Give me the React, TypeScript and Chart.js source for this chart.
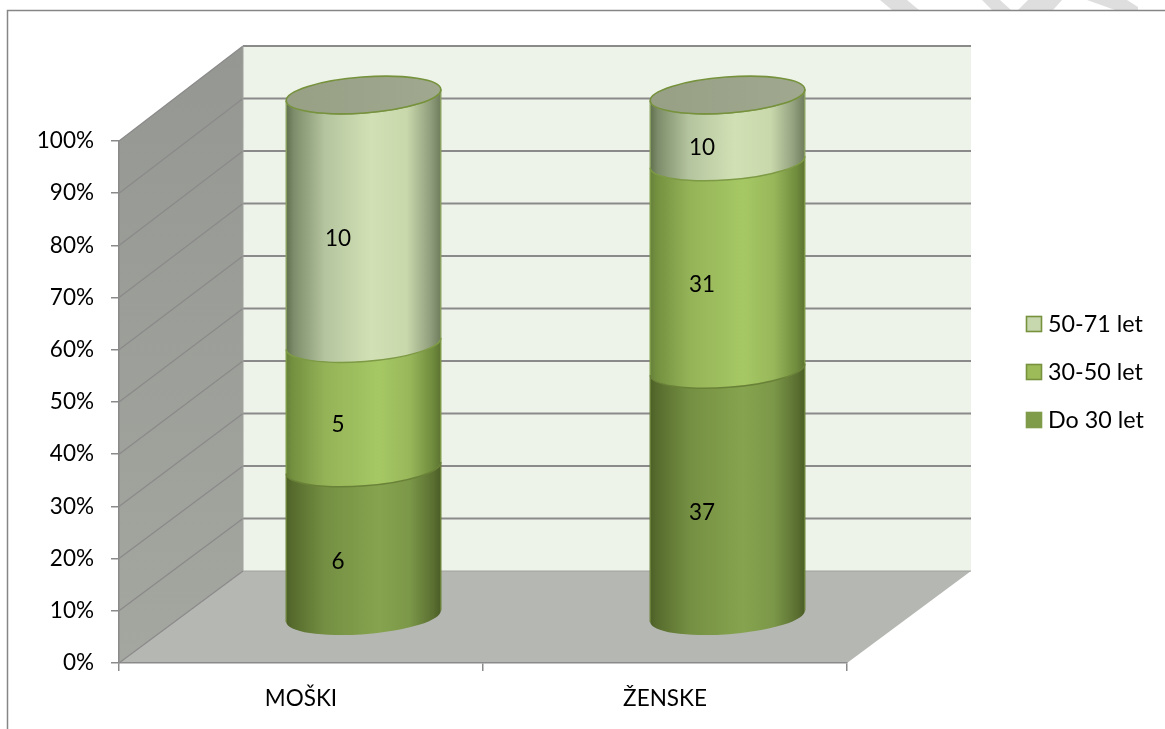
import React, { useEffect, useRef } from "react";
import { Chart, BarController, BarElement, CategoryScale, LinearScale } from "chart.js";

// Respondent counts per sex and age group
const categories = ["MOŠKI", "ŽENSKE"];
const under30 = [6, 37];
const from30to50 = [5, 31];
const from50to71 = [10, 10];
const seriesNames = ["Do 30 let", "30-50 let", "50-71 let"];
const yTicks = [0, 10, 20, 30, 40, 50, 60, 70, 80, 90, 100];

const FONT = "Lato, Carlito, sans-serif";
const GRID = "#8a8a8a";

// Offset of the back wall and of the cylinders from the front plane of the box
const WALL = { dx: 124, dy: -92, stretch: 1.0057 };
const MID = { dx: 62.5, dy: -46 };
const TILT = -0.075;
const MINOR = 18;

// Colour stops across each cylinder, left to right; keyed by the series colour
const SHADES: Record<string, [number, string][]> = {
  "#7f9c4a": [
    [0, "#4c5f27"], [0.04, "#566b2d"], [0.25, "#748f42"], [0.6, "#86a44f"],
    [0.8, "#7b9748"], [0.95, "#5a6f31"], [1, "#4a5c26"],
  ],
  "#a4c661": [
    [0, "#66803a"], [0.04, "#73903f"], [0.25, "#94b357"], [0.6, "#a6c864"],
    [0.8, "#98b75a"], [0.95, "#6e8a3c"], [1, "#5c7232"],
  ],
  "#d2e1b5": [
    [0, "#5f6f4d"], [0.05, "#7d8c6a"], [0.25, "#b4c49e"], [0.55, "#d2e1b5"],
    [0.78, "#c9d8ab"], [0.93, "#929f7e"], [1, "#6e7c5c"],
  ],
};
const LEGEND_FILL: Record<string, string> = {
  "#7f9c4a": "#7f9c4a",
  "#a4c661": "#9dbb59",
  "#d2e1b5": "#c8d8ae",
};

const totals = categories.map((_, i) => under30[i] + from30to50[i] + from50to71[i]);
const toPercent = (values: number[]) => values.map((v, i) => (v / totals[i]) * 100);

// A stacked bar segment drawn as a slice of a cylinder
class CylinderSegment extends BarElement {
  static id = "cylinderSegment";
  static defaults = { ...BarElement.defaults };

  draw(ctx: CanvasRenderingContext2D) {
    const { x, y, base, width } = (this as any).getProps(["x", "y", "base", "width"]);
    const opts = (this as any).options;
    const cx = x + MID.dx;
    const top = y + MID.dy;
    const bottom = base + MID.dy;
    const a = width / 2;
    const grad = ctx.createLinearGradient(cx - a, 0, cx + a, 0);
    for (const [stop, colour] of SHADES[opts.backgroundColor]) grad.addColorStop(stop, colour);

    ctx.save();
    // Both ends follow the near half of the ellipse, so slices nest into each other
    ctx.beginPath();
    ctx.ellipse(cx, bottom, a, MINOR, TILT, 0, Math.PI, false);
    ctx.ellipse(cx, top, a, MINOR, TILT, Math.PI, 0, true);
    ctx.closePath();
    ctx.fillStyle = grad;
    ctx.fill();

    ctx.strokeStyle = opts.borderColor;
    ctx.lineWidth = 1.4;
    const sin = Math.sin(TILT) * a;
    const cos = Math.cos(TILT) * a;
    ctx.beginPath();
    ctx.moveTo(cx - cos, bottom - sin);
    ctx.lineTo(cx - cos, top - sin);
    ctx.moveTo(cx + cos, bottom + sin);
    ctx.lineTo(cx + cos, top + sin);
    ctx.stroke();
    // Seam with the slice above
    ctx.beginPath();
    ctx.ellipse(cx, top, a, MINOR, TILT, Math.PI, 0, true);
    ctx.lineWidth = 1.5;
    ctx.stroke();
    ctx.restore();
  }
}

class CylinderController extends BarController {
  static id = "cylinder";
  static defaults = { ...BarController.defaults, dataElementType: "cylinderSegment" };
  static overrides = BarController.overrides;
}

Chart.register(CylinderController, CylinderSegment, CategoryScale, LinearScale);

const poly = (ctx: CanvasRenderingContext2D, pts: number[][], fill: string | CanvasGradient) => {
  ctx.beginPath();
  pts.forEach(([x, y], i) => (i ? ctx.lineTo(x, y) : ctx.moveTo(x, y)));
  ctx.closePath();
  ctx.fillStyle = fill;
  ctx.fill();
};

// Page furniture: faint diagonal strokes above the frame, and the frame itself
const backdrop = {
  id: "backdrop",
  beforeDraw(chart: any) {
    const { ctx } = chart;
    ctx.save();
    ctx.fillStyle = "#fff";
    ctx.fillRect(0, 0, chart.width, chart.height);
    const strokes = [
      [[880, 0], [907, 0], [919, 10], [892, 10]],
      [[982, 0], [1000, 0], [1011, 10], [992, 10]],
      [[1028, 0], [1062, 0], [1053, 10], [1018, 10]],
      [[1087, 0], [1127, 0], [1138, 7], [1138, 10], [1115, 10]],
    ];
    strokes.forEach((s) => poly(ctx, s, "#dedede"));
    ctx.strokeStyle = "#868686";
    ctx.lineWidth = 1.5;
    ctx.beginPath();
    ctx.moveTo(7.5, 729);
    ctx.lineTo(7.5, 10.5);
    ctx.lineTo(1165, 10.5);
    ctx.stroke();
    ctx.restore();
  },
};

// Box behind the cylinders: side wall, back wall, floor and their gridlines
const box = {
  id: "box",
  beforeDraw(chart: any) {
    const { ctx, chartArea: area } = chart;
    const y = chart.scales.y;
    const { left, right } = area;
    const b = y.getPixelForValue(0);
    const t = y.getPixelForValue(100);
    const { dx, dy, stretch } = WALL;
    const backY = (p: number) => b + dy - (b - p) * stretch;
    ctx.save();
    poly(ctx, [[left + dx, backY(t)], [right + dx, backY(t)], [right + dx, b + dy], [left + dx, b + dy]], "#eef3ea");
    const side = ctx.createLinearGradient(0, backY(t), 0, b);
    side.addColorStop(0, "#959792");
    side.addColorStop(1, "#a4a6a0");
    poly(ctx, [[left, t], [left + dx, backY(t)], [left + dx, b + dy], [left, b]], side);
    poly(ctx, [[left, b], [left + dx, b + dy], [right + dx, b + dy], [right, b]], "#b5b7b2");
    yTicks.forEach((v) => {
      const p = y.getPixelForValue(v);
      ctx.strokeStyle = GRID;
      ctx.lineWidth = 1.2;
      ctx.beginPath();
      ctx.moveTo(left, p);
      ctx.lineTo(left + dx, backY(p));
      ctx.stroke();
      if (v > 0) {
        ctx.lineWidth = 2;
        ctx.beginPath();
        ctx.moveTo(left + dx, backY(p));
        ctx.lineTo(right + dx, backY(p));
        ctx.stroke();
      }
    });
    ctx.strokeStyle = "#a0a29d";
    ctx.lineWidth = 1;
    ctx.beginPath();
    ctx.moveTo(left + dx, backY(t));
    ctx.lineTo(left + dx, b + dy);
    ctx.lineTo(right + dx, b + dy);
    ctx.stroke();
    ctx.restore();
  },
};

// Lids of the cylinders, the count labels and the key on the right
const overlays = {
  id: "overlays",
  afterDatasetsDraw(chart: any) {
    const { ctx } = chart;
    const last = chart.data.datasets.length - 1;
    ctx.save();
    chart.getDatasetMeta(last).data.forEach((el: any) => {
      const cx = el.x + MID.dx;
      const cy = el.y + MID.dy;
      ctx.beginPath();
      ctx.ellipse(cx, cy, el.width / 2, MINOR, TILT, 0, Math.PI * 2);
      const lid = ctx.createLinearGradient(cx - el.width / 2, 0, cx + el.width / 2, 0);
      lid.addColorStop(0, "#979f85");
      lid.addColorStop(1, "#a0a98f");
      ctx.fillStyle = lid;
      ctx.fill();
      ctx.strokeStyle = "#76923c";
      ctx.lineWidth = 1.6;
      ctx.stroke();
    });

    ctx.font = `22.5px ${FONT}`;
    ctx.fillStyle = "#000";
    ctx.textAlign = "center";
    ctx.textBaseline = "middle";
    const counts = [under30, from30to50, from50to71];
    chart.data.datasets.forEach((_: any, d: number) => {
      chart.getDatasetMeta(d).data.forEach((el: any, i: number) => {
        const mid = (el.y + el.base) / 2;
        ctx.fillText(String(counts[d][i]), el.x + MID.dx - 25.5, mid + MID.dy + 19.5);
      });
    });

    ctx.textAlign = "left";
    ctx.font = `23.3px ${FONT}`;
    chart.data.datasets.forEach((ds: any, d: number) => {
      const rowY = 420 - d * 48;
      ctx.fillStyle = LEGEND_FILL[ds.backgroundColor];
      ctx.fillRect(1026.5, rowY - 7.5, 15, 15);
      ctx.strokeStyle = d === 0 ? "#7f9c4a" : "#76923c";
      ctx.lineWidth = 1.6;
      ctx.strokeRect(1026.5, rowY - 7.5, 15, 15);
      ctx.fillStyle = "#000";
      ctx.fillText(ds.label, 1048, rowY);
    });
    ctx.restore();
  },
};

export default function App() {
  const ref = useRef<HTMLCanvasElement>(null);

  useEffect(() => {
    const seriesData = [under30, from30to50, from50to71];
    const colours = ["#7f9c4a", "#a4c661", "#d2e1b5"];
    const rims = ["#6a8238", "#7d9a45", "#8aa060"];
    const tickFont = { family: FONT, size: 22.5 };
    const chart = new Chart(ref.current as HTMLCanvasElement, {
      type: "cylinder" as any,
      data: {
        labels: categories,
        datasets: seriesNames.map((label, i) => ({
          label,
          data: toPercent(seriesData[i]),
          backgroundColor: colours[i],
          borderColor: rims[i],
          barPercentage: 155 / 364,
          categoryPercentage: 1,
          // Cylinders stand mid-depth in the box, above the front plane's area
          clip: false,
        })),
      },
      options: {
        animation: false,
        responsive: false,
        events: [],
        layout: { padding: { top: 141, right: 318, left: 0, bottom: 0 } },
        plugins: { legend: { display: false }, tooltip: { enabled: false } },
        scales: {
          x: {
            stacked: true,
            offset: true,
            grid: { offset: true, drawOnChartArea: false, color: GRID, tickLength: 8, lineWidth: 1.5 },
            border: { color: GRID, width: 1.5 },
            ticks: { color: "#000", font: tickFont, padding: 14, maxRotation: 0 },
            afterFit(scale: any) {
              scale.height = 66;
            },
          },
          y: {
            stacked: true,
            min: 0,
            max: 100,
            afterBuildTicks(scale: any) {
              scale.ticks = yTicks.map((value) => ({ value }));
            },
            grid: { drawOnChartArea: false, color: GRID, tickLength: 8, lineWidth: 1.5 },
            border: { color: GRID, width: 1.5 },
            ticks: { color: "#000", font: tickFont, padding: 17, callback: (v: any) => `${v}%` },
            afterFit(scale: any) {
              scale.width = 119;
            },
          },
        },
      } as any,
      plugins: [backdrop, box, overlays],
    } as any);
    return () => chart.destroy();
  }, []);

  return (
    <div style={{ position: "absolute", left: 0, top: 0, width: 1165, height: 729, overflow: "hidden" }}>
      <canvas ref={ref} width={1165} height={729} style={{ display: "block", width: 1165, height: 729 }} />
    </div>
  );
}
